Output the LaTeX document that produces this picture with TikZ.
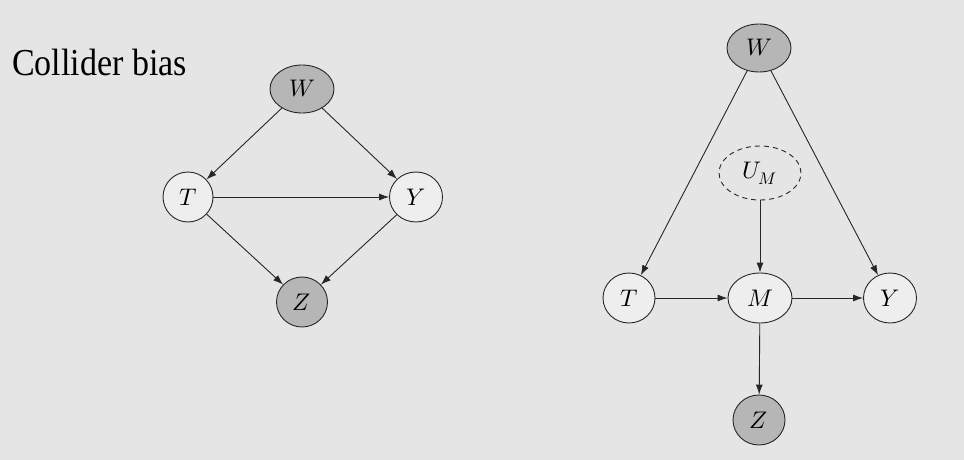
\documentclass[tikz,border=0pt]{standalone}
\usepackage{fontspec}
\usepackage{unicode-math}
\setmainfont{Liberation Serif}
\setmathfont{Latin Modern Math}
\usetikzlibrary{shapes.geometric,arrows.meta}
\definecolor{bg}{HTML}{E5E5E5}
\definecolor{lightnode}{HTML}{EEEEEE}
\definecolor{darknode}{HTML}{B6B6B6}
\definecolor{ink}{HTML}{262626}
\tikzset{
  var/.style={ellipse, draw=ink, line width=0.9pt, inner sep=0pt, fill=lightnode,
    font=\fontsize{24}{28}\selectfont},
  obs/.style={var, fill=darknode},
  latent/.style={var, dashed, dash pattern=on 5pt off 4pt, fill=none},
  arr/.style={draw=ink, line width=0.9pt, -{Latex[length=10pt,width=7pt]}},
}
\begin{document}
\begin{tikzpicture}[x=1pt,y=-1pt]
\path[fill=bg] (0,0) rectangle (964,460);
\node[anchor=base west, font=\fontsize{34}{40}\selectfont, inner sep=0pt] (title) at (12,76) {\scalebox{1}[1.12]{Collider bias}};
% left diagram
\node[obs, minimum width=64pt, minimum height=48pt] (W1) at (302,89) {$W$};
\node[var, minimum width=50pt, minimum height=50pt] (T1) at (188,197) {$T$};
\node[var, minimum width=53pt, minimum height=50pt] (Y1) at (416,197) {$Y$};
\node[obs, minimum width=51pt, minimum height=50pt] (Z1) at (302,302) {$Z$};
\draw[arr] (W1) -- (T1);
\draw[arr] (W1) -- (Y1);
\draw[arr] (T1) -- (Y1);
\draw[arr] (T1) -- (Z1);
\draw[arr] (Y1) -- (Z1);
% right diagram
\node[obs, minimum width=64pt, minimum height=48pt] (W2) at (759,48) {$W$};
\node[latent, minimum width=82pt, minimum height=54pt] (U2) at (760,173) {$U_M$};
\node[var, minimum width=52pt, minimum height=50pt] (T2) at (629,298) {$T$};
\node[var, minimum width=64pt, minimum height=50pt] (M2) at (760,298) {$M$};
\node[var, minimum width=53pt, minimum height=50pt] (Y2) at (890,298) {$Y$};
\node[obs, minimum width=52pt, minimum height=50pt] (Z2) at (759,420) {$Z$};
\draw[arr] (W2) -- (T2);
\draw[arr] (W2) -- (Y2);
\draw[arr] (U2) -- (M2);
\draw[arr] (T2) -- (M2);
\draw[arr] (M2) -- (Y2);
\draw[arr] (M2) -- (Z2);
\end{tikzpicture}
\end{document}
